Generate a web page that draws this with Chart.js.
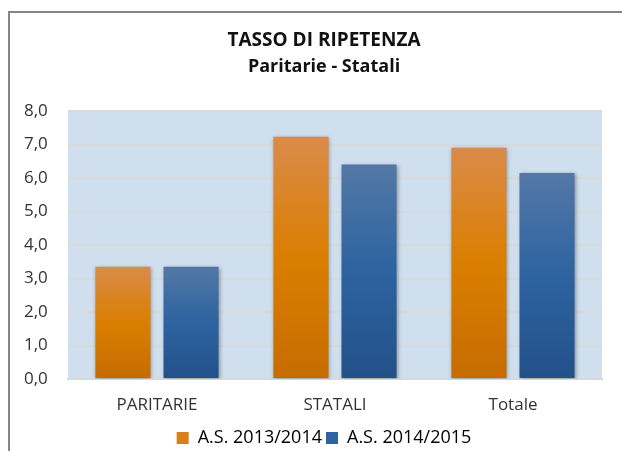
<!DOCTYPE html>
<html>
<head>
<meta charset="utf-8">
<script src="https://cdn.jsdelivr.net/npm/chart.js@4"></script>
<style>
  html, body { margin: 0; padding: 0; background: #fff; }
  #wrap { width: 622px; height: 451px; }
</style>
</head>
<body>
<div id="wrap"><canvas id="chart" width="622" height="451"></canvas></div>
<script>
// -------------------- DATA --------------------
const categories = ["PARITARIE", "STATALI", "Totale"];
const series2013 = [3.35, 7.23, 6.9];
const series2014 = [3.35, 6.4, 6.15];
const seriesNames = ["A.S. 2013/2014", "A.S. 2014/2015"];
const yTicks = [0, 1, 2, 3, 4, 5, 6, 7, 8];

const FONT = "'Open Sans', 'Noto Sans', sans-serif";

// -------------------- HELPERS --------------------
function barGradient(ctx, stops) {
  const chart = ctx.chart;
  const area = chart.chartArea;
  if (!area || ctx.type !== "data") return stops[1];
  const y = chart.scales.y;
  const top = y.getPixelForValue(ctx.raw);
  const bottom = y.getPixelForValue(0);
  const g = chart.ctx.createLinearGradient(0, top, 0, bottom);
  g.addColorStop(0, stops[0]);
  g.addColorStop(0.5, stops[1]);
  g.addColorStop(1, stops[2]);
  return g;
}

const orangeStops = ["#DA8B4A", "#DA7E00", "#C66C00"];
const blueStops = ["#5378A6", "#2C63A0", "#235089"];

// plot background, frame and bar shadows
const decor = {
  id: "decor",
  beforeDraw(chart) {
    const c = chart.ctx;
    const a = chart.chartArea;
    c.save();
    c.fillStyle = "#fff";
    c.fillRect(0, 0, chart.width, chart.height);
    c.fillStyle = "#D0DFEE";
    c.fillRect(a.left, a.top, a.right - a.left, a.bottom - a.top);
    c.strokeStyle = "#858585";
    c.lineWidth = 2;
    c.beginPath();
    c.moveTo(9, chart.height);
    c.lineTo(9, 12);
    c.lineTo(chart.width, 12);
    c.stroke();
    c.restore();
  },
  beforeDatasetsDraw(chart) {
    const c = chart.ctx;
    c.save();
    c.shadowColor = "rgba(0,0,0,0.35)";
    c.shadowBlur = 4;
    c.shadowOffsetX = 1;
    c.shadowOffsetY = 1;
  },
  afterDatasetsDraw(chart) {
    chart.ctx.restore();
  }
};

// -------------------- CHART --------------------
const chart = new Chart(document.getElementById("chart").getContext("2d"), {
  type: "bar",
  data: {
    labels: categories,
    datasets: [
      {
        label: seriesNames[0],
        data: series2013,
        backgroundColor: (ctx) => barGradient(ctx, orangeStops),
        borderWidth: 0,
        categoryPercentage: 0.765,
        barPercentage: 0.809
      },
      {
        label: seriesNames[1],
        data: series2014,
        backgroundColor: (ctx) => barGradient(ctx, blueStops),
        borderWidth: 0,
        categoryPercentage: 0.765,
        barPercentage: 0.809
      }
    ]
  },
  options: {
    responsive: false,
    animation: false,
    devicePixelRatio: 1,
    layout: { padding: { left: 46, right: 20, top: 0, bottom: -6 } },
    plugins: {
      title: {
        display: true,
        text: "TASSO DI RIPETENZA",
        color: "#111",
        font: { family: FONT, size: 19, weight: "bold", lineHeight: 1.2 },
        padding: { top: 29.6, bottom: 3.8 }
      },
      subtitle: {
        display: true,
        text: "Paritarie - Statali",
        color: "#111",
        font: { family: FONT, size: 18, weight: "bold", lineHeight: 1.2 },
        padding: { top: 0, bottom: 33.2 }
      },
      legend: {
        position: "bottom",
        labels: {
          color: "#333",
          font: { family: FONT, size: 18 },
          boxWidth: 12,
          boxHeight: 12,
          padding: 4,
          generateLabels: (chart) => chart.data.datasets.map((ds, i) => ({
            text: ds.label,
            fillStyle: i === 0 ? "#D9801C" : "#2E63A0",
            strokeStyle: "rgba(0,0,0,0)",
            lineWidth: 0,
            datasetIndex: i
          }))
        }
      },
      tooltip: { enabled: false }
    },
    scales: {
      x: {
        grid: { display: false, drawTicks: false },
        border: { display: true, color: "#D9D9D9", width: 2 },
        ticks: { color: "#333", font: { family: FONT, size: 17 }, padding: 16 },
        afterFit: (scale) => { scale.height = 46; }
      },
      y: {
        min: 0,
        max: 8,
        afterBuildTicks: (scale) => { scale.ticks = yTicks.map((v) => ({ value: v })); },
        grid: { color: "#D9D9D9", lineWidth: 2, drawTicks: false },
        border: { display: false },
        ticks: {
          color: "#333",
          font: { family: FONT, size: 17 },
          mirror: true,
          padding: -44,
          callback: (v) => v.toFixed(1).replace(".", ",")
        },
        afterFit: (scale) => { scale.width = 22; }
      }
    }
  },
  plugins: [decor]
});
</script>
</body>
</html>
